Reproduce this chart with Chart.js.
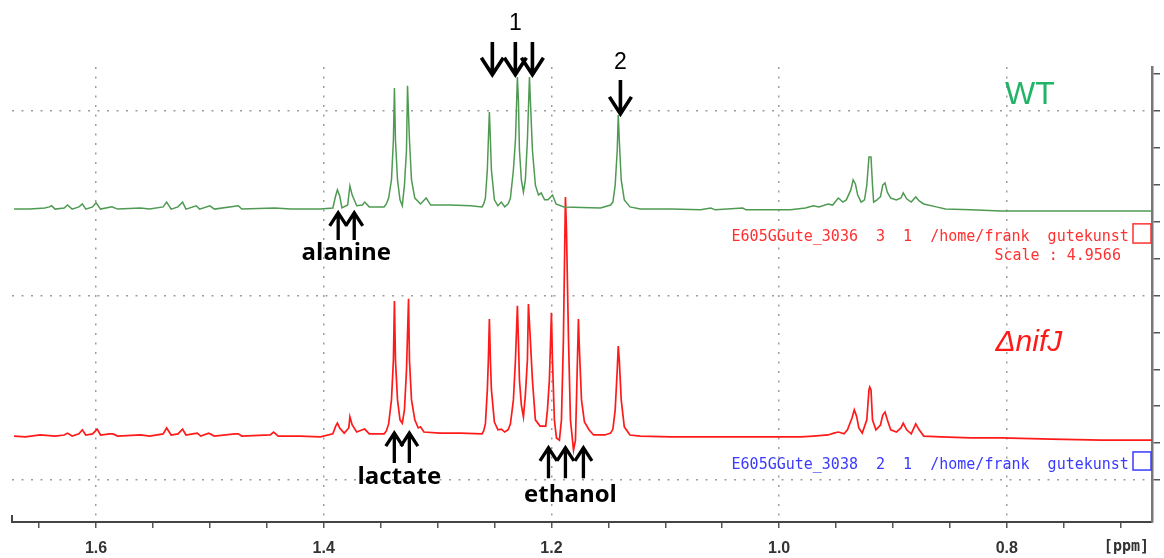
<!DOCTYPE html>
<html>
<head>
<meta charset="utf-8">
<script src="https://cdn.jsdelivr.net/npm/chart.js@4.4.1/dist/chart.umd.min.js"></script>
<style>
  html, body { margin: 0; padding: 0; background: #fff; }
  #wrap { width: 1164px; height: 558px; }
</style>
</head>
<body>
<div id="wrap"><canvas id="nmr" width="1164" height="558"></canvas></div>
<script>
// --- Spectra, [ppm, intensity] ---
const wtSpectrum = [
  [1.672,7.34],[1.658,7.34],[1.645,7.37],[1.641,7.40],[1.639,7.43],[1.636,7.34],
  [1.628,7.37],[1.625,7.45],[1.621,7.34],[1.615,7.40],[1.612,7.48],[1.609,7.34],
  [1.603,7.40],[1.600,7.51],[1.596,7.34],[1.586,7.40],[1.581,7.34],[1.561,7.37],[1.553,7.34],
  [1.541,7.40],[1.538,7.53],[1.534,7.34],[1.528,7.40],[1.524,7.53],[1.521,7.34],
  [1.512,7.43],[1.509,7.34],[1.500,7.43],[1.496,7.34],[1.475,7.43],[1.472,7.34],
  [1.443,7.37],[1.429,7.34],[1.403,7.34],
  [1.392,7.37],[1.3895,7.70],[1.388,7.86],[1.386,7.70],[1.384,7.37],
  [1.379,7.45],[1.377,7.97],[1.375,7.72],[1.371,7.43],
  [1.366,7.45],[1.364,7.53],[1.360,7.40],[1.347,7.40],
  [1.345,7.48],[1.343,7.64],[1.3405,8.13],[1.3388,9.21],[1.3379,10.62],[1.3370,9.21],[1.3352,8.13],[1.333,7.59],
  [1.331,7.43],[1.3291,7.99],[1.3273,8.94],[1.3264,10.68],[1.3247,9.21],[1.3229,8.13],[1.320,7.64],
  [1.315,7.48],[1.310,7.64],[1.306,7.45],[1.289,7.45],[1.271,7.43],[1.261,7.40],
  [1.2595,7.48],[1.2580,7.64],[1.2563,8.40],[1.2554,9.21],[1.2545,9.97],[1.2536,9.21],[1.2527,8.40],[1.2501,7.59],
  [1.247,7.43],[1.244,7.53],[1.241,7.40],
  [1.238,7.48],[1.236,7.64],[1.2334,8.40],[1.2316,9.21],[1.2299,10.92],[1.2290,10.30],[1.2281,8.94],[1.2264,8.13],
  [1.2246,7.80],[1.2229,8.13],[1.2211,9.21],[1.2193,10.92],[1.2185,10.30],[1.2167,8.94],[1.2141,7.99],
  [1.2114,7.72],[1.209,7.78],[1.206,7.59],[1.203,7.59],[1.199,7.72],[1.196,7.48],[1.189,7.40],
  [1.157,7.37],[1.148,7.45],[1.146,7.53],[1.1440,7.99],[1.1422,8.94],[1.1413,9.89],[1.1404,9.21],[1.1387,8.13],
  [1.1360,7.59],[1.131,7.40],[1.122,7.34],[1.095,7.34],[1.069,7.32],[1.060,7.37],[1.056,7.32],
  [1.032,7.37],[1.029,7.32],[1.016,7.32],
  [0.990,7.32],[0.977,7.37],[0.970,7.43],[0.965,7.40],[0.957,7.48],[0.953,7.45],[0.948,7.64],
  [0.944,7.53],[0.941,7.59],[0.937,7.86],[0.935,8.13],[0.933,8.02],[0.931,7.72],[0.928,7.53],
  [0.925,7.59],[0.923,7.99],[0.9211,8.75],[0.9193,8.75],[0.9180,7.99],[0.917,7.53],[0.914,7.59],
  [0.913,7.62],[0.911,7.67],[0.909,7.99],[0.907,8.05],[0.905,7.80],[0.902,7.64],[0.897,7.59],
  [0.893,7.64],[0.891,7.78],[0.888,7.62],[0.884,7.53],[0.880,7.67],[0.877,7.56],[0.873,7.48],
  [0.862,7.40],[0.854,7.34],[0.832,7.32],[0.805,7.29],[0.761,7.29],[0.717,7.29],[0.672,7.29]
];

const nifjSpectrum = [
  [1.672,1.19],[1.662,1.17],[1.649,1.22],[1.636,1.19],[1.628,1.22],[1.625,1.27],[1.621,1.19],
  [1.615,1.25],[1.612,1.36],[1.609,1.22],[1.603,1.25],[1.599,1.38],[1.596,1.22],[1.588,1.25],
  [1.585,1.25],[1.581,1.19],[1.561,1.22],[1.553,1.19],
  [1.541,1.25],[1.538,1.41],[1.534,1.22],[1.528,1.25],[1.524,1.38],[1.521,1.22],[1.515,1.25],
  [1.511,1.27],[1.508,1.19],[1.501,1.27],[1.496,1.19],[1.478,1.25],[1.475,1.25],[1.472,1.19],
  [1.447,1.22],[1.444,1.30],[1.440,1.19],[1.421,1.19],[1.403,1.17],
  [1.392,1.25],[1.3895,1.46],[1.388,1.54],[1.386,1.41],[1.382,1.27],[1.378,1.41],[1.377,1.71],
  [1.375,1.49],[1.371,1.30],[1.366,1.36],[1.364,1.38],[1.360,1.25],[1.347,1.25],
  [1.345,1.33],[1.343,1.52],[1.3405,2.17],[1.3388,3.25],[1.3379,4.85],[1.3370,3.25],[1.3352,2.17],[1.333,1.63],
  [1.331,1.54],[1.3291,1.90],[1.3273,2.98],[1.3255,4.91],[1.3247,3.25],[1.3229,2.17],[1.320,1.63],
  [1.317,1.41],[1.315,1.44],[1.312,1.30],[1.298,1.27],[1.280,1.27],[1.261,1.25],
  [1.2595,1.33],[1.2580,1.52],[1.2563,2.44],[1.2554,3.25],[1.2545,4.36],[1.2536,3.25],[1.2527,2.44],[1.2501,1.57],
  [1.247,1.36],[1.244,1.38],[1.241,1.30],
  [1.238,1.36],[1.236,1.52],[1.2334,2.17],[1.2316,3.25],[1.2299,4.72],[1.2290,3.79],[1.2281,2.71],[1.2264,2.03],
  [1.2246,1.71],[1.2229,2.30],[1.2211,3.25],[1.2202,4.77],[1.2185,3.79],[1.2167,2.71],[1.2141,1.63],
  [1.210,1.46],[1.205,1.46],
  [1.2035,1.90],[1.2018,2.71],[1.2000,4.53],[1.1991,3.25],[1.1974,1.63],[1.1956,1.14],[1.1930,1.08],
  [1.1912,1.63],[1.1895,3.79],[1.1877,7.67],[1.1868,6.78],[1.1850,3.79],[1.1833,1.63],[1.1806,0.81],
  [1.1789,1.08],[1.1780,2.17],[1.1763,4.36],[1.1754,3.52],[1.1736,2.17],[1.1710,1.57],[1.167,1.36],
  [1.163,1.22],
  [1.153,1.22],[1.148,1.27],[1.146,1.38],[1.1440,1.90],[1.1422,2.98],[1.1413,3.63],[1.1404,3.25],[1.1387,2.17],
  [1.1360,1.44],[1.131,1.22],[1.122,1.19],[1.095,1.17],[1.069,1.17],[1.032,1.17],[0.999,1.17],
  [0.981,1.17],[0.970,1.19],[0.957,1.22],[0.952,1.27],[0.948,1.30],[0.943,1.25],[0.940,1.36],
  [0.936,1.68],[0.934,1.90],[0.932,1.73],[0.930,1.41],[0.927,1.27],[0.923,1.63],[0.9211,2.44],
  [0.9204,2.52],[0.9193,2.44],[0.918,1.63],[0.915,1.36],[0.911,1.49],[0.909,1.76],[0.907,1.84],
  [0.905,1.63],[0.902,1.36],[0.897,1.30],[0.893,1.41],[0.891,1.54],[0.888,1.36],[0.884,1.25],
  [0.880,1.52],[0.877,1.36],[0.873,1.19],[0.858,1.17],[0.832,1.14],[0.805,1.14],[0.761,1.11],
  [0.717,1.08],[0.672,1.08]
];

// --- Axes ---
const ppmMin = 0.6725;
const ppmMax = 1.6738;
const ppmTicks = [0.70,0.75,0.80,0.85,0.90,0.95,1.00,1.05,1.10,1.15,1.20,1.25,1.30,1.35,1.40,1.45,1.50,1.55,1.60,1.65];
const ppmLabels = [1.6, 1.4, 1.2, 1.0, 0.8];
const intMin = -1.138;
const intMax = 11.19;
const intTicks = [0,1,2,3,4,5,6,7,8,9,10,11];
const intGrid = [0, 5, 10];

// --- Annotations: [ppm, tail, tip] ---
const topArrows = [[1.2519,11.87,10.98],[1.2317,11.87,10.98],[1.2167,11.87,10.98],[1.1394,10.84,9.92]];
const upArrows = [
  [1.3873,6.50,7.24],[1.3732,6.50,7.24],
  [1.3380,0.46,1.27],[1.3248,0.46,1.27],
  [1.2026,0.05,0.87],[1.1877,0.05,0.87],[1.1719,0.05,0.87]
];
const peakNumbers = [["1",1.2317,12.36],["2",1.1394,11.30]];
const compounds = [["alanine",1.3802,6.15],["lactate",1.3336,0.08],["ethanol",1.1833,-0.41]];
const sampleNames = [["WT",0.7798,10.43,"#22b466","32px 'Liberation Sans'"],["\u0394nifJ",0.7807,3.71,"#ff1a1a","italic 30px 'Liberation Sans'"]];
const infoLines = [
  ["E605GGute_3036  3  1  /home/frank  gutekunst",0.6928,6.59,"#ff3030"],
  ["Scale : 4.9566",0.6998,6.07,"#ff3030"],
  ["E605GGute_3038  2  1  /home/frank  gutekunst",0.6928,0.41,"#3a3aff"]
];
const infoBoxes = [[6.94,6.42,"#ff3030"],[0.76,0.27,"#3a3aff"]];

const near = (v, list) => list.some(t => Math.abs(t - v) < 1e-6);

function arrow(ctx, x, yTail, yTip, hw, hh, lw) {
  const dir = yTip > yTail ? 1 : -1;
  ctx.lineWidth = lw;
  ctx.beginPath();
  ctx.moveTo(x, yTail);
  ctx.lineTo(x, yTip);
  ctx.moveTo(x - hw, yTip - dir * hh);
  ctx.lineTo(x, yTip);
  ctx.lineTo(x + hw, yTip - dir * hh);
  ctx.stroke();
}

// --- Overlay: arrows, labels, file info ---
const annotate = {
  id: "annotate",
  afterDraw(chart) {
    const { ctx, chartArea, scales: { x, y } } = chart;
    const px = v => x.getPixelForValue(v);
    const py = v => y.getPixelForValue(v);
    ctx.save();
    ctx.strokeStyle = "#000";
    ctx.lineJoin = "miter";

    topArrows.forEach(a => arrow(ctx, px(a[0]), py(a[1]), py(a[2]), 11, 17, 3.6));
    upArrows.forEach(a => arrow(ctx, px(a[0]), py(a[1]), py(a[2]), 8.5, 13, 3.3));

    ctx.fillStyle = "#000";
    ctx.textAlign = "center";
    ctx.textBaseline = "middle";
    ctx.font = "23px 'Liberation Sans'";
    peakNumbers.forEach(([t, p, v]) => ctx.fillText(t, px(p), py(v)));
    ctx.font = "bold 24px 'Open Sans'";
    compounds.forEach(([t, p, v]) => ctx.fillText(t, px(p), py(v)));

    sampleNames.forEach(([t, p, v, c, f]) => {
      ctx.font = f;
      ctx.fillStyle = c;
      ctx.fillText(t, px(p), py(v));
    });

    ctx.textAlign = "right";
    ctx.font = "15px 'DejaVu Sans Mono'";
    infoLines.forEach(([t, p, v, c]) => {
      ctx.fillStyle = c;
      ctx.fillText(t, px(p), py(v));
    });
    ctx.lineWidth = 1.5;
    infoBoxes.forEach(([v0, v1, c]) => {
      ctx.strokeStyle = c;
      ctx.strokeRect(chartArea.right - 19, py(v0), 18, py(v1) - py(v0));
    });

    // left end tick and unit label
    ctx.strokeStyle = "#444";
    ctx.lineWidth = 2;
    ctx.beginPath();
    ctx.moveTo(chartArea.left, chartArea.bottom - 7);
    ctx.lineTo(chartArea.left, chartArea.bottom);
    ctx.stroke();
    ctx.fillStyle = "#333";
    ctx.font = "bold 15px 'DejaVu Sans Mono'";
    ctx.textAlign = "right";
    ctx.fillText("[ppm]", chartArea.right - 3, x.top + 25);
    ctx.restore();
  }
};

new Chart(document.getElementById("nmr"), {
  type: "scatter",
  data: {
    datasets: [
      {
        label: "WT",
        data: wtSpectrum.map(([p, v]) => ({ x: p, y: v })),
        borderColor: "#4f9a52",
        borderWidth: 1.5,
        showLine: true,
        pointRadius: 0,
        tension: 0
      },
      {
        label: "\u0394nifJ",
        data: nifjSpectrum.map(([p, v]) => ({ x: p, y: v })),
        borderColor: "#ff1a1a",
        borderWidth: 1.7,
        showLine: true,
        pointRadius: 0,
        tension: 0
      }
    ]
  },
  options: {
    responsive: false,
    animation: false,
    layout: { padding: { left: 12, top: 67, right: 0, bottom: 0 } },
    plugins: { legend: { display: false }, tooltip: { enabled: false } },
    scales: {
      x: {
        type: "linear",
        reverse: true,
        min: ppmMin,
        max: ppmMax,
        afterBuildTicks: s => { s.ticks = ppmTicks.map(v => ({ value: v })); },
        afterFit: s => { s.height = 36; },
        ticks: {
          autoSkip: false,
          maxRotation: 0,
          padding: 11,
          color: "#333",
          font: { family: "Liberation Sans", size: 16, weight: "bold" },
          callback: v => near(v, ppmLabels) ? v.toFixed(1) : ""
        },
        grid: {
          color: c => c.tick && near(c.tick.value, ppmLabels) ? "#9c9c9c" : "rgba(0,0,0,0)",
          lineWidth: 1.5,
          tickColor: "#555",
          tickLength: 6,
          tickWidth: 1.5
        },
        border: { display: true, color: "#444", width: 2, dash: [2, 7.5] }
      },
      y: {
        type: "linear",
        position: "right",
        min: intMin,
        max: intMax,
        afterBuildTicks: s => { s.ticks = intTicks.map(v => ({ value: v })); },
        afterFit: s => { s.width = 12; },
        ticks: { display: false },
        grid: {
          color: c => c.tick && near(c.tick.value, intGrid) ? "#9c9c9c" : "rgba(0,0,0,0)",
          lineWidth: 1.5,
          tickColor: "#555",
          tickLength: 8,
          tickWidth: 1.5
        },
        border: { display: true, color: "#777", width: 2.5, dash: [2, 7.5] }
      }
    }
  },
  plugins: [annotate]
});
</script>
</body>
</html>
